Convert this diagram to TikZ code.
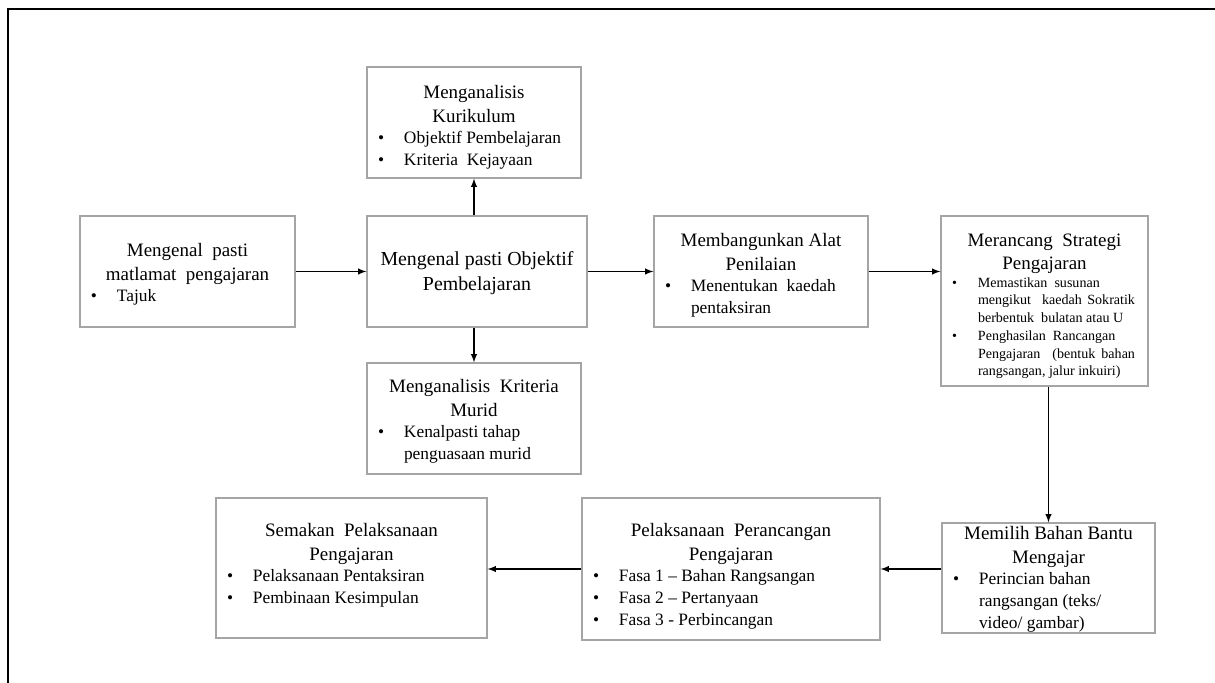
\documentclass[tikz,border=0pt]{standalone}
\usepackage{fontspec}
\setmainfont{Liberation Serif}
\usepackage{tikz}

\definecolor{boxline}{RGB}{165,165,165}
\newdimen\px \px=0.02cm
\newcommand{\stagehead}[1]{{\centering\fontsize{10.8pt}{13.4pt}\selectfont #1\par}}
\newcommand{\stageitem}[1]{\par{\let\\\newline\noindent\hangindent=37\px\hangafter=1\hspace*{11\px}\makebox[26\px][l]{\textbullet}#1\par}}
\newcommand{\stagebody}[5]{\begin{minipage}[c][#2\px][t]{#1\px}\raggedright\fontsize{9.9pt}{12.35pt}\selectfont
  \vspace*{#3\px}\stagehead{#4}#5\end{minipage}}

\begin{document}
\begin{tikzpicture}[x=0.02cm,y=-0.02cm,
    stage/.style={draw=boxline,line width=0.8pt,rectangle,inner sep=0pt},
    flow/.style={->,>=latex,line width=0.6pt}]
			\useasboundingbox (0,0) rectangle (1215,683);
			\draw[line width=1.4pt] (8,683) -- (8,9) -- (1215,9);
			\node[stage] (Goal) at (187.5,271.5) {\stagebody{215}{111}{27.5}{Mengenal~ pasti\\matlamat~ pengajaran}{\stageitem{Tajuk}}};
			\node[stage] (Obj) at (477,271.5) {\stagebody{220}{111}{35.5}{\fontsize{11.3pt}{14pt}\selectfont Mengenal pasti Objektif\\Pembelajaran}{}};
			\node[stage] (Kur) at (474,122.5) {\stagebody{214}{111}{18.5}{Menganalisis\\Kurikulum}{\stageitem{Objektif Pembelajaran}\stageitem{Kriteria~ Kejayaan}}};
			\node[stage] (Murid) at (474,418.5) {\stagebody{214}{111}{16.5}{Menganalisis~ Kriteria\\Murid}{\stageitem{Kenalpasti tahap\\penguasaan murid}}};
			\node[stage] (Alat) at (761,271.5) {\stagebody{214}{111}{17.5}{Membangunkan Alat\\Penilaian}{\stageitem{Menentukan~ kaedah\\pentaksiran}}};
			\node[stage] (Strat) at (1044.5,301) {\stagebody{207}{170}{17.5}{Merancang~ Strategi\\Pengajaran}{{\fontsize{8pt}{10.07pt}\selectfont\rightskip=13\px
			  \stageitem{Memastikan~ susunan\\mengikut~ kaedah Sokratik\linebreak berbentuk~ bulatan atau U}\stageitem{Penghasilan~ Rancangan\\Pengajaran~ (bentuk bahan\linebreak rangsangan, jalur inkuiri)}}}};
			\node[stage] (Bahan) at (1048.5,578) {\stagebody{213}{110}{3.5}{Memilih Bahan Bantu\\Mengajar}{\stageitem{Perincian bahan\\rangsangan (teks/\\video/ gambar)}}};
			\node[stage] (Laksana) at (731,569) {\stagebody{298}{142}{25.5}{Pelaksanaan~ Perancangan\\Pengajaran}{\stageitem{Fasa 1 – Bahan Rangsangan}\stageitem{Fasa 2 – Pertanyaan}\stageitem{Fasa 3 - Perbincangan}}};
			\node[stage] (Semakan) at (351.5,568) {\stagebody{271}{140}{25.5}{Semakan~ Pelaksanaan\\Pengajaran}{\stageitem{Pelaksanaan Pentaksiran}\stageitem{Pembinaan Kesimpulan}}};
			\draw[flow] (Goal) -- (Obj);
			\draw[flow] (Obj) -- (Alat);
			\draw[flow] (Alat.east) -- (Alat.east -| Strat.west);
			\draw[flow] (Kur.south |- Obj.north) -- (Kur.south);
			\draw[flow] (Murid.north |- Obj.south) -- (Murid.north);
			\draw[flow] (Strat.south -| Bahan.north) -- (Bahan.north);
			\draw[flow] (Laksana.east -| Bahan.west) -- (Laksana.east);
			\draw[flow] (Laksana.west) -- (Laksana.west -| Semakan.east);
		\end{tikzpicture}
\end{document}
